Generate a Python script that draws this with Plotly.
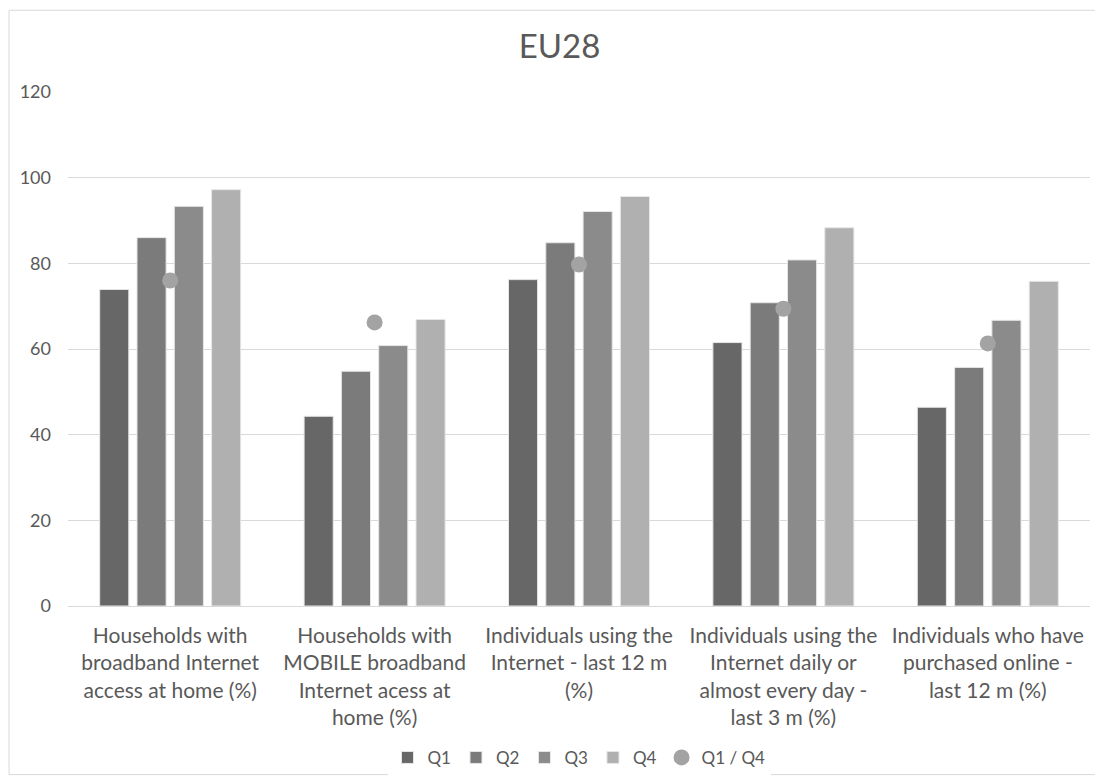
import plotly.graph_objects as go

categories = [
    "Households with<br>broadband Internet<br>access at home (%)",
    "Households with<br>MOBILE broadband<br>Internet acess at<br>home (%)",
    "Individuals using the<br>Internet - last 12 m<br>(%)",
    "Individuals using the<br>Internet daily or<br>almost every day -<br>last 3 m (%)",
    "Individuals who have<br>purchased online -<br>last 12 m (%)",
]
q1 = [73.9, 44.3, 76.2, 61.5, 46.4]
q2 = [86.0, 54.8, 84.8, 70.8, 55.7]
q3 = [93.3, 60.8, 92.1, 80.8, 66.7]
q4 = [97.2, 66.9, 95.6, 88.3, 75.8]
q1_q4 = [76.0, 66.2, 79.7, 69.4, 61.3]

series = [("Q1", q1, "#676767"), ("Q2", q2, "#7b7b7b"), ("Q3", q3, "#8b8b8b"), ("Q4", q4, "#b0b0b0")]

font_family = "Lato, 'Open Sans', sans-serif"
fig = go.Figure()
for name, vals, col in series:
    fig.add_trace(go.Bar(
        x=categories, y=vals, name=name,
        marker=dict(color=col, line=dict(color="#e6e6e6", width=1)),
    ))
fig.add_trace(go.Scatter(
    x=categories, y=q1_q4, name="Q1 / Q4", mode="markers",
    marker=dict(color="#a3a3a3", size=16),
))

fig.update_layout(
    width=1103, height=778,
    paper_bgcolor="white", plot_bgcolor="white",
    margin=dict(l=60, r=21, t=84, b=179),
    title=dict(text="EU28", x=0.5, xanchor="center", y=0.95, yanchor="middle",
               font=dict(family=font_family, size=33, color="#595959")),
    font=dict(family=font_family, color="#595959"),
    barmode="group", bargap=0.27, bargroupgap=0.22,
    showlegend=True,
    legend=dict(orientation="h", x=0.5, xanchor="center", y=-0.293, yanchor="middle",
                font=dict(size=17, color="#595959"), traceorder="normal",
                itemwidth=30),
    xaxis=dict(tickfont=dict(size=21, color="#595959"), showline=False,
               ticks="", showgrid=False, ticklabelstandoff=15),
    yaxis=dict(range=[0, 120], dtick=20, gridcolor="#d9d9d9", gridwidth=1,
               zeroline=True, zerolinecolor="#d9d9d9", zerolinewidth=1,
               tickfont=dict(size=18, color="#595959"), ticklabelstandoff=16),
    shapes=[dict(type="rect", xref="paper", yref="paper",
                 x0=-0.0577, x1=1.0068, y0=-0.328, y1=1.159,
                 line=dict(color="#d9d9d9", width=1), fillcolor="rgba(0,0,0,0)")],
)

fig.write_html("out.html")
